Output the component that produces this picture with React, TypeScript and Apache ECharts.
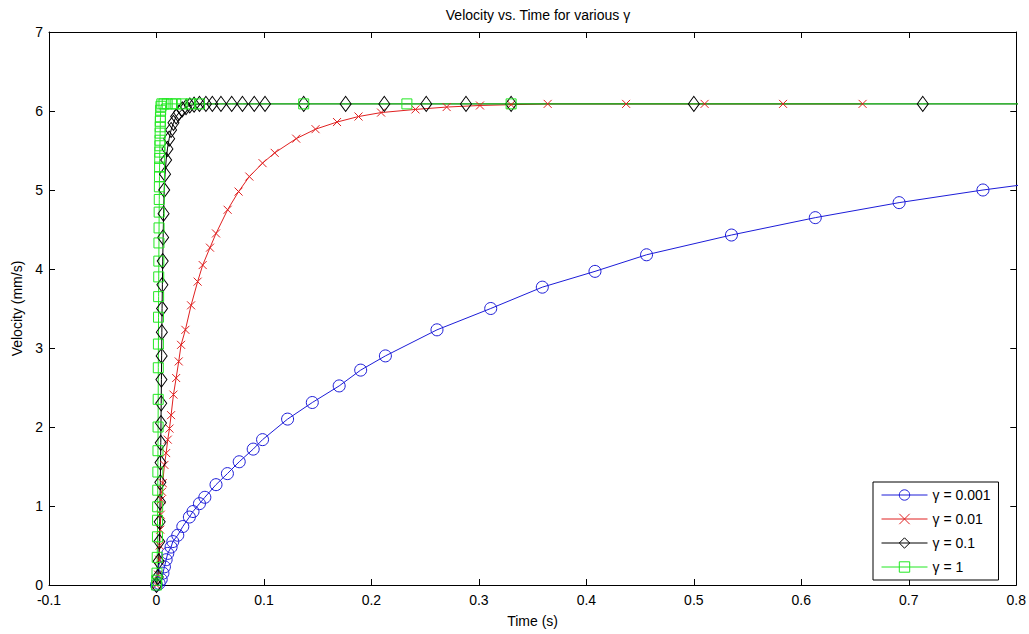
import React, { useEffect, useRef } from "react";
import * as echarts from "echarts";

// ---- data (t in s, v in mm/s) ----
const gamma0001: number[][] = [
  [0, 0], [0.0025, 0.02], [0.0044, 0.07], [0.006, 0.15], [0.0074, 0.23], [0.009, 0.32],
  [0.0105, 0.4], [0.0136, 0.48], [0.0152, 0.55], [0.0198, 0.63], [0.0245, 0.74],
  [0.0306, 0.86], [0.034, 0.93], [0.04, 1.03], [0.045, 1.11], [0.0554, 1.27],
  [0.066, 1.41], [0.077, 1.56], [0.09, 1.72], [0.0987, 1.84], [0.122, 2.1],
  [0.145, 2.31], [0.17, 2.52], [0.19, 2.72], [0.213, 2.9], [0.261, 3.23],
  [0.311, 3.5], [0.359, 3.77], [0.408, 3.97], [0.456, 4.18], [0.535, 4.43],
  [0.613, 4.65], [0.691, 4.84], [0.769, 5.0], [0.847, 5.14],
];

const gamma001: number[][] = [
  [0, 0], [0.0015, 0.13], [0.0025, 0.32], [0.003, 0.5], [0.0035, 0.7], [0.004, 0.89],
  [0.0045, 1.08], [0.0052, 1.18], [0.0058, 1.29], [0.0074, 1.52], [0.009, 1.67],
  [0.0105, 1.84], [0.0121, 1.98], [0.0136, 2.15], [0.0158, 2.41], [0.0183, 2.62],
  [0.0207, 2.83], [0.0229, 3.04], [0.0269, 3.23], [0.0322, 3.54], [0.0383, 3.84],
  [0.043, 4.05], [0.0498, 4.27], [0.0554, 4.45], [0.0662, 4.75], [0.0764, 4.98],
  [0.0864, 5.17], [0.0987, 5.34], [0.11, 5.47], [0.13, 5.65], [0.148, 5.77],
  [0.168, 5.86], [0.188, 5.93], [0.209, 5.98], [0.241, 6.02], [0.27, 6.05],
  [0.301, 6.07], [0.33, 6.08], [0.364, 6.09], [0.437, 6.09], [0.51, 6.09],
  [0.583, 6.09], [0.657, 6.09],
];

const gamma01: number[][] = [
  [0, 0], [0.0012, 0.1], [0.002, 0.3], [0.0026, 0.55], [0.003, 0.8], [0.0033, 1.05],
  [0.0036, 1.3], [0.0038, 1.55], [0.004, 1.8], [0.0042, 2.05], [0.0044, 2.3],
  [0.0046, 2.6], [0.0048, 2.9], [0.005, 3.2], [0.0052, 3.5], [0.0055, 3.8],
  [0.0058, 4.1], [0.0062, 4.4], [0.0066, 4.7], [0.0072, 5.0], [0.008, 5.2],
  [0.009, 5.38], [0.0102, 5.52], [0.0118, 5.65], [0.0136, 5.76], [0.0158, 5.85],
  [0.0183, 5.93], [0.021, 5.98], [0.024, 6.02], [0.0275, 6.05], [0.031, 6.07],
  [0.035, 6.08], [0.04, 6.09], [0.046, 6.09], [0.052, 6.09], [0.06, 6.09],
  [0.07, 6.09], [0.08, 6.09], [0.091, 6.09], [0.101, 6.09], [0.137, 6.09],
  [0.176, 6.09], [0.212, 6.09], [0.251, 6.09], [0.288, 6.09], [0.33, 6.09],
  [0.5, 6.09], [0.713, 6.09], [0.95, 6.09],
];

const gamma1: number[][] = [
  [0, 0], [0.0003, 0.06], [0.0005, 0.15], [0.0007, 0.35], [0.0009, 0.61], [0.001, 0.82],
  [0.0011, 0.99], [0.0012, 1.2], [0.0013, 1.43], [0.0014, 1.7], [0.0015, 2.0],
  [0.0016, 2.35], [0.0017, 2.75], [0.0018, 3.05], [0.0019, 3.39], [0.002, 3.65],
  [0.0021, 3.9], [0.0022, 4.1], [0.0023, 4.33], [0.0024, 4.52], [0.0025, 4.72],
  [0.0026, 4.88], [0.0027, 5.04], [0.0028, 5.17], [0.0029, 5.29], [0.003, 5.4],
  [0.0031, 5.48], [0.0032, 5.56], [0.0033, 5.63], [0.0034, 5.72], [0.0035, 5.8],
  [0.0036, 5.87], [0.0037, 5.92], [0.0039, 6.01], [0.0042, 6.06], [0.005, 6.09],
  [0.007, 6.09], [0.01, 6.09], [0.014, 6.09], [0.018, 6.09], [0.024, 6.09],
  [0.032, 6.09], [0.04, 6.09], [0.137, 6.09], [0.233, 6.09], [0.33, 6.09], [1.0, 6.09],
];

const seriesNames = ["\u03b3 = 0.001", "\u03b3 = 0.01", "\u03b3 = 0.1", "\u03b3 = 1"];
const xMin = -0.1;
const xMax = 0.8;
const xStep = 0.1;
const yMin = 0;
const yMax = 7;
const yStep = 1;

const FONT = "'Liberation Sans Narrow', 'Liberation Sans', Arial, sans-serif";
const CROSS = "path://M0,0L10,10M10,0L0,10";
const CLEAR = "rgba(0,0,0,0)";

export default function App() {
  const ref = useRef<HTMLDivElement>(null);
  useEffect(() => {
    if (!ref.current) return;
    const chart = echarts.init(ref.current, undefined, { renderer: "svg" });
    const tick = { inside: true, length: 6, lineStyle: { color: "#000", width: 1 } };
    const axLine = { show: true, onZero: false, lineStyle: { color: "#000", width: 1 } };
    const labelStyle = { color: "#000", fontSize: 14, fontFamily: FONT };
    const mk = (
      name: string,
      data: number[][],
      color: string,
      symbol: string,
      size: number | number[]
    ) => ({
      name,
      type: "line",
      data,
      xAxisIndex: 0,
      yAxisIndex: 0,
      symbol,
      symbolSize: size,
      showAllSymbol: true,
      clip: true,
      lineStyle: { color, width: 1 },
      itemStyle: { color: CLEAR, borderColor: color, borderWidth: 1 },
      emphasis: { disabled: true },
    });
    chart.setOption({
      animation: false,
      backgroundColor: "#fff",
      textStyle: { fontFamily: FONT },
      title: {
        text: "Velocity vs. Time for various \u03b3",
        left: 533,
        textAlign: "center",
        top: 3,
        textStyle: { fontSize: 14, fontWeight: "normal", color: "#000", fontFamily: FONT },
      },
      grid: { left: 49, right: 11, top: 32, bottom: 49, containLabel: false },
      legend: {
        orient: "vertical",
        left: 873,
        top: 482,
        padding: [6, 8, 6, 8],
        itemWidth: 46,
        itemHeight: 13,
        itemGap: 10,
        borderColor: "#000",
        borderWidth: 1,
        backgroundColor: "#fff",
        lineStyle: { width: 1 },
        itemStyle: { borderWidth: 1 },
        textStyle: { fontSize: 14, color: "#000", fontFamily: FONT },
        data: seriesNames,
      },
      xAxis: [
        {
          type: "value",
          min: xMin,
          max: xMax,
          interval: xStep,
          position: "bottom",
          name: "Time (s)",
          nameLocation: "middle",
          nameGap: 29,
          nameTextStyle: { fontSize: 14, color: "#000", fontFamily: FONT },
          axisLine: axLine,
          axisTick: tick,
          splitLine: { show: false },
          axisLabel: {
            ...labelStyle,
            margin: 8,
            formatter: (v: number) => String(Math.round(v * 10) / 10),
          },
        },
        {
          type: "value",
          min: xMin,
          max: xMax,
          interval: xStep,
          position: "top",
          axisLine: axLine,
          axisTick: tick,
          splitLine: { show: false },
          axisLabel: { show: false },
        },
      ],
      yAxis: [
        {
          type: "value",
          min: yMin,
          max: yMax,
          interval: yStep,
          position: "left",
          name: "Velocity (mm/s)",
          nameLocation: "middle",
          nameGap: 24,
          nameTextStyle: { fontSize: 14, color: "#000", fontFamily: FONT },
          axisLine: axLine,
          axisTick: tick,
          splitLine: { show: false },
          axisLabel: { ...labelStyle, margin: 6 },
        },
        {
          type: "value",
          min: yMin,
          max: yMax,
          interval: yStep,
          position: "right",
          axisLine: axLine,
          axisTick: tick,
          splitLine: { show: false },
          axisLabel: { show: false },
        },
      ],
      series: [
        mk(seriesNames[0], gamma0001, "#1c1cd8", "circle", 12),
        mk(seriesNames[1], gamma001, "#e02020", CROSS, 8),
        mk(seriesNames[2], gamma01, "#000000", "diamond", [11, 15]),
        mk(seriesNames[3], gamma1, "#22e822", "rect", 10),
      ],
    });
    return () => chart.dispose();
  }, []);
  return (
    <div
      ref={ref}
      style={{ position: "absolute", left: 0, top: 0, width: 1029, height: 634 }}
    />
  );
}
